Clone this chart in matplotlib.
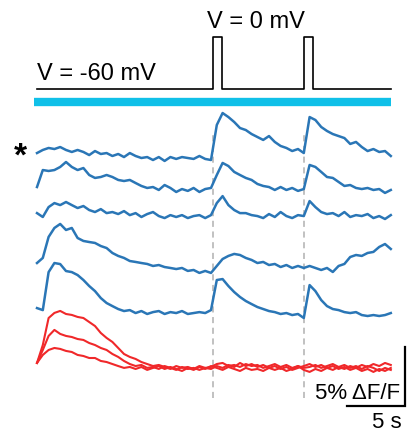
"""
    Calcium imaging traces under a voltage step protocol
"""
import numpy as np
import matplotlib
matplotlib.use("Agg")
import matplotlib.pyplot as plt

plt.rcParams['font.family'] = ['Liberation Sans', 'DejaVu Sans']

# sampling of the traces (s)
dt = 0.5

# protocol: holding and step potential (mV), step onsets (s), step length (s)
v_hold = -60
v_step = 0
pulse_starts = [15.2, 23.0]
pulse_len = 0.75
protocol_end = 30.5

# dF/F traces in percent, blue = cells that respond to depolarization
blue_traces = [
    [0.42, 0.68, 0.85, 0.76, 0.93, 0.68, 0.51, 0.68, 0.51, 0.25,
     0.59, 0.34, 0.42, 0.17, 0.34, 0.08, 0.42, 0.17, 0.0, 0.08,
     -0.17, 0.08, -0.25, 0.08, -0.08, 0.08, 0.0, -0.08, 0.17, -0.08,
     -0.17, 2.80, 3.81, 3.47, 3.05, 2.54, 2.37, 2.03, 1.78, 1.53,
     1.86, 1.36, 1.02, 0.85, 0.59, 0.76, 0.42, 3.47, 3.22, 2.63,
     2.29, 2.03, 1.86, 1.69, 1.19, 1.36, 0.93, 0.59, 0.76, 0.51,
     0.59, 0.17],
    [0.25, 1.69, 1.61, 1.69, 1.95, 2.37, 1.95, 1.69, 1.86, 1.27,
     1.02, 1.10, 1.27, 1.10, 0.85, 0.76, 0.85, 0.59, 0.34, 0.17,
     0.25, 0.0, 0.42, 0.17, -0.17, 0.08, -0.08, 0.17, -0.17, 0.08,
     0.17, 1.27, 2.29, 2.03, 1.53, 1.27, 1.02, 0.85, 0.51, 0.34,
     0.25, 0.0, 0.25, 0.0, 0.17, -0.08, 0.08, 2.12, 1.95, 1.53,
     1.10, 1.02, 0.68, 0.34, 0.42, 0.17, 0.08, 0.17, 0.0, 0.08,
     -0.25, 0.0],
    [0.25, -0.08, 0.76, 1.10, 0.93, 1.19, 0.93, 0.68, 0.85, 0.51,
     0.34, 0.59, 0.25, 0.34, 0.17, 0.42, 0.08, 0.25, -0.08, 0.17,
     0.34, 0.0, -0.17, 0.08, -0.08, 0.08, -0.17, 0.0, 0.08, -0.17,
     0.08, 1.10, 1.69, 0.93, 0.51, 0.25, 0.25, 0.08, 0.0, -0.17,
     0.17, -0.08, 0.34, 0.0, -0.17, 0.08, 0.0, 1.27, 0.76, 0.34,
     0.17, 0.25, 0.0, 0.34, -0.08, 0.08, 0.0, 0.17, -0.17, 0.0,
     -0.25, 0.08],
    [0.59, 1.02, 2.80, 3.56, 3.90, 3.39, 3.56, 2.71, 2.46, 2.37,
     2.29, 2.03, 1.86, 1.44, 1.19, 1.02, 0.76, 0.68, 0.59, 0.51,
     0.34, 0.42, 0.25, 0.17, 0.08, 0.17, -0.08, 0.0, -0.25, -0.08,
     -0.25, 0.34, 0.93, 1.19, 1.36, 1.27, 1.02, 0.85, 0.59, 0.68,
     0.42, 0.51, 0.25, 0.42, 0.17, 0.34, 0.17, 0.34, 0.17, 0.0,
     0.17, -0.17, 0.34, 0.51, 1.10, 1.27, 1.19, 1.44, 1.53, 1.95,
     2.20, 1.78],
    [0.42, 0.25, 3.47, 4.24, 4.15, 3.56, 3.47, 3.22, 2.80, 2.29,
     1.86, 1.27, 0.85, 0.59, 0.34, 0.17, 0.25, 0.0, 0.17, -0.08,
     0.08, 0.17, -0.08, 0.08, 0.0, 0.17, -0.08, 0.0, 0.08, 0.0,
     0.25, 2.80, 2.88, 2.29, 1.78, 1.36, 1.02, 0.76, 0.51, 0.34,
     0.17, 0.08, -0.08, 0.0, -0.17, -0.08, -0.42, 2.37, 1.86, 1.10,
     0.59, 0.34, 0.25, 0.08, 0.0, 0.08, -0.17, -0.25, -0.17, -0.25,
     -0.17, 0.0],
]

# red = cells without a response to the steps
red_traces = [
    [0.34, 1.86, 4.15, 4.58, 4.75, 4.49, 4.41, 4.24, 4.15, 3.81,
     3.47, 2.88, 2.46, 2.12, 1.61, 1.10, 0.85, 0.68, 0.42, 0.25,
     0.08, 0.17, 0.0, -0.17, 0.08, -0.08, 0.0, -0.17, 0.08, -0.08,
     0.0, 0.25, 0.34, 0.08, 0.17, 0.0, 0.25, 0.08, 0.17, -0.08,
     0.08, 0.25, 0.0, 0.17, -0.08, 0.08, -0.25, -0.42, -0.17, -0.34,
     -0.08, -0.25, 0.0, -0.17, 0.08, -0.08, 0.17, 0.0, 0.25, 0.08,
     0.34, 0.17],
    [0.34, 1.44, 2.63, 3.14, 2.80, 2.63, 2.54, 2.37, 2.29, 2.03,
     1.86, 1.61, 1.44, 1.10, 0.85, 0.51, 0.25, 0.08, 0.17, -0.08,
     0.0, -0.17, 0.08, -0.08, -0.25, 0.0, -0.17, -0.08, -0.25, -0.08,
     -0.17, 0.08, -0.08, 0.17, 0.0, 0.34, 0.08, 0.25, 0.0, 0.17,
     -0.08, 0.08, -0.17, 0.0, -0.25, -0.08, 0.08, 0.25, 0.0, 0.17,
     -0.08, 0.08, -0.17, 0.0, -0.25, -0.08, -0.34, -0.17, -0.42, -0.17,
     -0.34, -0.08],
    [0.34, 1.02, 1.44, 1.61, 1.53, 1.36, 1.27, 1.02, 0.93, 0.76,
     0.76, 0.51, 0.42, 0.25, 0.08, -0.08, 0.0, -0.17, 0.0, -0.25,
     -0.08, 0.08, -0.17, 0.0, -0.17, -0.34, -0.08, -0.25, 0.0, -0.17,
     0.08, -0.08, -0.25, 0.0, -0.17, -0.34, -0.08, -0.25, -0.17, -0.34,
     -0.08, -0.25, -0.08, -0.34, -0.17, 0.08, -0.08, 0.0, 0.17, -0.08,
     0.08, 0.25, 0.0, 0.17, -0.08, 0.08, -0.17, 0.08, -0.08, -0.34,
     -0.08, -0.25],
]

# layout (data units: s horizontally, % dF/F vertically)
blue_offsets = [23.56, 20.85, 18.64, 14.07, 10.42]
red_offset = 5.85
proto_base = 29.41
proto_gain = 4.4 / 60.0      # height per mV
light_y = 28.31
blue = "#2a76b6"
red = "#f0282a"
cyan = "#10c0e8"

fig = plt.figure(figsize=(4.14, 4.36), dpi=100)
ax = fig.add_axes([0, 0, 1, 1])
ax.set_xlim(-3.19, 32.5)
ax.set_ylim(0, 36.95)
ax.axis("off")

# voltage protocol as a step trace
pt = [0.0]
pv = [v_hold]
for s in pulse_starts:
    pt += [s, s, s + pulse_len, s + pulse_len]
    pv += [v_hold, v_step, v_step, v_hold]
pt.append(protocol_end)
pv.append(v_hold)
ax.plot(pt, proto_base + (np.array(pv) - v_hold) * proto_gain, color="black", lw=1.2)

# light bar
ax.plot([-0.25, protocol_end], [light_y, light_y], color=cyan, lw=6, solid_capstyle="butt")

ax.text(0, 30.17, "V = -60 mV", fontsize=17, ha="left", va="baseline")
ax.text(pulse_starts[0] - 0.55, 34.58, "V = 0 mV", fontsize=17, ha="left", va="baseline")

# dashed markers at each step
for s in pulse_starts:
    ax.plot([s, s], [3.22, 25.76], color="#b0b0b0", lw=1.1, ls=(0, (4, 3)), zorder=1)

for vals, off in zip(blue_traces, blue_offsets):
    t = np.arange(len(vals)) * dt
    ax.plot(t, np.array(vals) + off, color=blue, lw=1.8, zorder=3)

for vals in red_traces:
    t = np.arange(len(vals)) * dt
    ax.plot(t, np.array(vals) + red_offset, color=red, lw=1.5, zorder=3)

ax.text(-1.4, 22.9, "*", fontsize=24, fontweight="bold", ha="center", va="baseline")

# scale bars: 5 s and 5 % dF/F
bx, by = 31.72, 2.54
ax.plot([bx - 5, bx, bx], [by, by, by + 5], color="black", lw=1.6, solid_joinstyle="miter")
ax.text(31.3, 3.14, "5% ΔF/F", fontsize=16, ha="right", va="baseline")
ax.text(31.47, 0.68, "5 s", fontsize=16, ha="right", va="baseline")

fig.savefig("out.png", dpi=100)
